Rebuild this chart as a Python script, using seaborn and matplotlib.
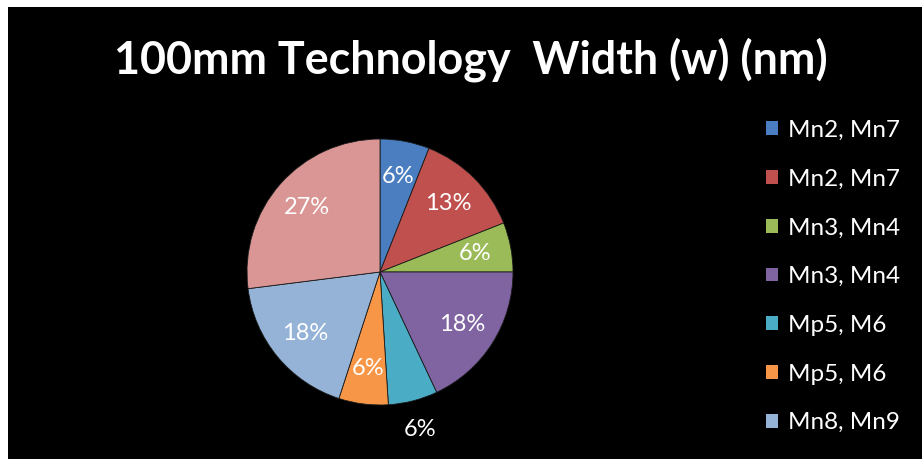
import matplotlib
matplotlib.use("Agg")
import matplotlib.pyplot as plt
import seaborn as sns
from matplotlib.patches import Patch, Rectangle

# data (percent of total)
labels = ["Mn2, Mn7", "Mn2, Mn7", "Mn3, Mn4", "Mn3, Mn4",
          "Mp5, M6", "Mp5, M6", "Mn8, Mn9", "Mn8, Mn9"]
shares = [6, 13, 6, 18, 6, 6, 18, 27]
colors = ["#4A7EC0", "#C0504D", "#9BBB59", "#8064A2",
          "#4BACC6", "#F79646", "#95B3D7", "#D99694"]

sns.set_theme(style="dark")
plt.rcParams['font.family'] = ['Lato', 'DejaVu Sans']

fig = plt.figure(figsize=(9.22, 4.59), dpi=100)
fig.patch.set_facecolor("white")
# black chart area with a thin white margin on the left and top
fig.patches.append(Rectangle((8 / 922, 0), 1, 1 - 7 / 459, transform=fig.transFigure,
                             facecolor="black", edgecolor="none", zorder=-10))

ax = fig.add_axes([247 / 922, 54 / 459, 266 / 922, 266 / 459])
ax.set_facecolor("none")
pal = sns.color_palette(colors)
wedges, texts, autotexts = ax.pie(
    shares, colors=pal, startangle=90, counterclock=False,
    autopct="%1.0f%%", pctdistance=0.73,
    wedgeprops=dict(edgecolor="#1a1a1a", linewidth=0.6),
    textprops=dict(color="white", fontsize=17))
# the small cyan slice gets its label outside the pie
x, y = autotexts[4].get_position()
autotexts[4].set_position((x * 1.22 / 0.73, y * 1.22 / 0.73))
ax.set_xlim(-1, 1)
ax.set_ylim(-1, 1)
ax.set_aspect("equal")
ax.axis("off")

fig.text(0.511, 0.869, "100mm Technology  Width (w) (nm)", ha="center", va="center",
         color="white", fontsize=32.3, fontweight="bold")

handles = [Patch(facecolor=c, edgecolor="none") for c in colors]
fig.legend(handles[:7], labels[:7], loc="upper left",
           bbox_to_anchor=(766 / 922, 1 - 120 / 459), frameon=False,
           fontsize=17.5, labelcolor="white", handlelength=0.5, handleheight=0.5,
           handletextpad=0.4, labelspacing=1.14, borderpad=0, borderaxespad=0)

fig.savefig("out.png", dpi=100, facecolor=fig.get_facecolor())
